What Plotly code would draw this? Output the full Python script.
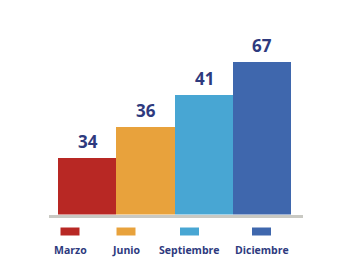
import plotly.graph_objects as go

categories = ["Marzo", "Junio", "Septiembre", "Diciembre"]
value_labels = ["34", "36", "41", "67"]
bar_heights = [57, 88, 120, 153]
colors = ["#b82824", "#e8a23c", "#48a6d3", "#3f67ad"]
legend_centers_px = [70, 126, 189.5, 261.5]

W, H = 341, 276
navy = "#2e3a7e"

fig = go.Figure()
fig.add_trace(go.Bar(
    x=list(range(len(categories))), y=bar_heights,
    marker=dict(color=colors, line=dict(width=0)),
    hoverinfo="skip", showlegend=False,
))

for i, (lab, h) in enumerate(zip(value_labels, bar_heights)):
    fig.add_annotation(x=i, y=h, text=f"<b>{lab}</b>", showarrow=False,
                       yanchor="bottom", yshift=3,
                       font=dict(family="Open Sans", size=17, color=navy))

for c, cx, name in zip(colors, legend_centers_px, categories):
    fig.add_shape(type="rect", xref="paper", yref="paper",
                  x0=(cx - 9.5) / W, x1=(cx + 9.5) / W,
                  y0=(H - 235.5) / H, y1=(H - 227.5) / H,
                  fillcolor=c, line=dict(width=0))
    fig.add_annotation(xref="paper", yref="paper", x=cx / W, y=(H - 249.5) / H,
                       text=f"<b>{name}</b>", showarrow=False,
                       xanchor="center", yanchor="middle",
                       font=dict(family="Open Sans", size=10.5, color=navy))

fig.update_layout(
    width=W, height=H, margin=dict(l=0, r=0, t=0, b=0),
    paper_bgcolor="white", plot_bgcolor="white",
    bargap=0,
    xaxis=dict(domain=[49.3 / W, 303.3 / W], range=[-0.655, 3.70],
               showgrid=False, zeroline=False, showticklabels=False,
               showline=True, linecolor="#c9c9c3", linewidth=3, ticks=""),
    yaxis=dict(domain=[(H - 214.5) / H, (H - 20) / H], range=[0, 194.5],
               showgrid=False, zeroline=False, showticklabels=False, showline=False),
)

fig.write_html("out.html")
